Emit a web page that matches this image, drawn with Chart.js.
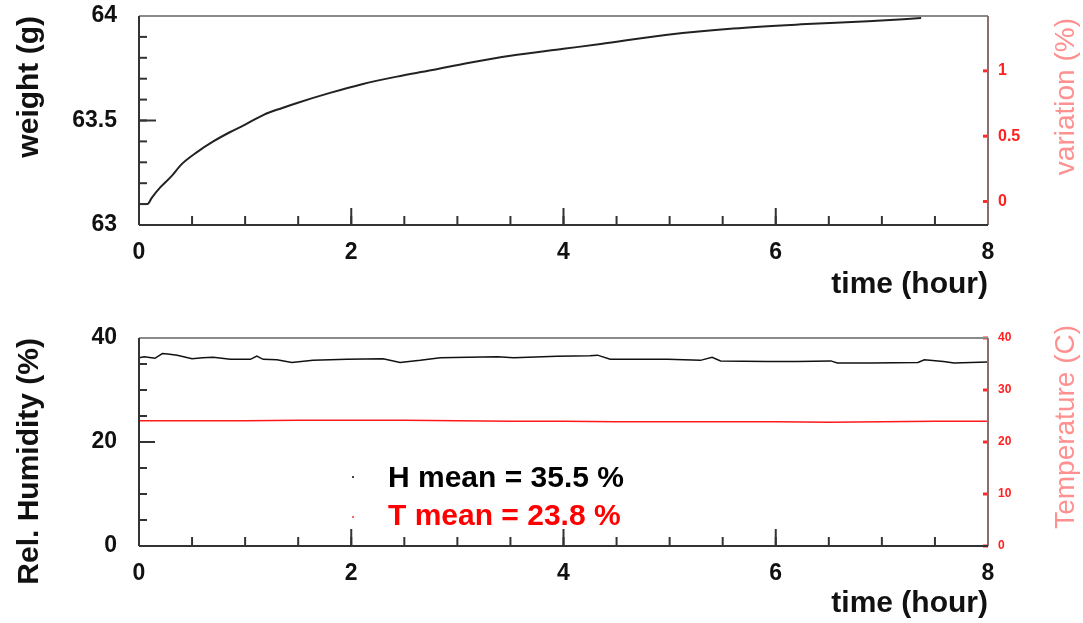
<!DOCTYPE html>
<html>
<head>
<meta charset="utf-8">
<title>Weight, humidity and temperature vs time</title>
<script src="https://cdn.jsdelivr.net/npm/chart.js@4.4.1/dist/chart.umd.min.js"></script>
<style>
    body { margin: 0; background: #fff; }
    #wrap { position: relative; width: 1083px; height: 623px; overflow: hidden; }
    #wrap canvas { position: absolute; left: 0; }
    #weightChart { top: 0; }
    #climateChart { top: 310px; }
    .mean { position: absolute; left: 388px; font: bold 30px 'Liberation Sans', Arial, sans-serif; line-height: 30px; white-space: nowrap; }
    .dot { position: absolute; left: 352px; width: 2px; height: 2px; }
</style>
</head>
<body>
<div id="wrap">
    <canvas id="weightChart" width="1083" height="310"></canvas>
    <canvas id="climateChart" width="1083" height="313"></canvas>
    <span class="dot" style="top:476px;background:#444"></span>
    <span class="dot" style="top:516px;background:#f66"></span>
    <div class="mean" style="top:462px;color:#000">H mean = 35.5 %</div>
    <div class="mean" style="top:500px;color:#ff0000">T mean = 23.8 %</div>
</div>
<script>
// ticks
const timeTicks = [0, 2, 4, 6, 8];
const weightTicks = [63, 63.5, 64];
const variationTicks = [0, 0.5, 1];
const humidityTicks = [0, 20, 40];
const temperatureTicks = [0, 10, 20, 30, 40];
const variationMin = -0.18;
const variationMax = 1.42;

// top panel: sample weight (g)
const weightTime = [0, 0.08, 0.12, 0.2, 0.3, 0.4, 0.55, 0.7, 0.86, 1.0, 1.17, 1.35, 1.49, 1.8, 2.11, 2.43, 2.75, 3.1, 3.5, 4.0, 4.35, 4.98, 5.6, 6.24, 6.87, 7.37];
const weightValue = [63.1, 63.1, 63.13, 63.18, 63.23, 63.29, 63.35, 63.40, 63.445, 63.48, 63.526, 63.56, 63.584, 63.632, 63.675, 63.71, 63.74, 63.775, 63.81, 63.843, 63.866, 63.91, 63.94, 63.96, 63.975, 63.99];

// bottom panel: relative humidity (%) and temperature (C)
const humidityTime = [0, 0.05, 0.15, 0.22, 0.27, 0.36, 0.5, 0.6, 0.7, 0.86, 1.05, 1.11, 1.17, 1.3, 1.44, 1.64, 1.96, 2.3, 2.46, 2.65, 2.84, 3.1, 3.38, 3.53, 3.94, 4.25, 4.32, 4.44, 4.63, 4.98, 5.29, 5.4, 5.48, 5.92, 6.2, 6.52, 6.58, 6.9, 7.34, 7.4, 7.58, 7.68, 8.0];
const humidityValue = [36.2, 36.4, 36.1, 37.0, 36.9, 36.7, 36.0, 36.2, 36.3, 35.9, 35.9, 36.5, 35.9, 35.8, 35.3, 35.7, 35.9, 36.0, 35.3, 35.7, 36.2, 36.3, 36.4, 36.2, 36.5, 36.6, 36.7, 35.9, 35.9, 35.9, 35.7, 36.3, 35.6, 35.5, 35.5, 35.6, 35.2, 35.2, 35.3, 35.8, 35.5, 35.2, 35.4];
const temperatureTime = [0, 0.5, 1.0, 1.5, 2.0, 2.5, 3.0, 3.5, 4.0, 4.5, 5.0, 5.5, 6.0, 6.5, 7.0, 7.5, 8.0];
const temperatureValue = [24.1, 24.1, 24.1, 24.2, 24.2, 24.2, 24.1, 24.0, 24.0, 23.9, 23.9, 23.9, 23.9, 23.8, 23.9, 24.0, 24.0];

const FONT = "'Liberation Sans', Arial, Helvetica, sans-serif";
Chart.defaults.font.family = FONT;

const toPoints = (xs, ys) => xs.map((x, i) => ({ x, y: ys[i] }));
const fixTicks = (list) => (s) => { s.ticks = list.map((v) => ({ value: v })); };
const plainNum = (v) => String(+Number(v).toFixed(2));

// frame + inward ticks (major and minor), ROOT style, plus the right-hand title
const frameTicks = {
    id: 'frameTicks',
    afterDatasetsDraw(chart, args, opts) {
        const { ctx, chartArea: a } = chart;
        ctx.save();
        opts.axes.forEach((ax) => {
            const s = chart.scales[ax.id];
            ctx.strokeStyle = ax.color;
            ctx.lineWidth = ax.width || 2;
            const mark = (v, len) => {
                const p = s.getPixelForValue(v);
                ctx.beginPath();
                if (s.isHorizontal()) { ctx.moveTo(p, a.bottom); ctx.lineTo(p, a.bottom - len); }
                else if (s.position === 'left') { ctx.moveTo(a.left, p); ctx.lineTo(a.left + len, p); }
                else { ctx.moveTo(a.right, p); ctx.lineTo(a.right - len, p); }
                ctx.stroke();
            };
            if (ax.minorStep) {
                const n = Math.round((s.max - s.min) / ax.minorStep);
                for (let i = 0; i <= n; i++) mark(s.min + i * ax.minorStep, ax.minorLen);
            }
            s.ticks.forEach((t) => mark(t.value, ax.majorLen));
        });
        const e = opts.edges;
        const line = (x1, y1, x2, y2, c) => {
            ctx.strokeStyle = c; ctx.lineWidth = 2;
            ctx.beginPath(); ctx.moveTo(x1, y1); ctx.lineTo(x2, y2); ctx.stroke();
        };
        line(a.left, a.top, a.right, a.top, e.top);
        line(a.right, a.top, a.right, a.bottom, e.right);
        line(a.left, a.top, a.left, a.bottom, e.left);
        line(a.left, a.bottom, a.right, a.bottom, e.bottom);

        const t = opts.sideTitle;
        if (t) {
            ctx.translate(a.right + t.dx, a.top + t.dy);
            ctx.rotate(-Math.PI / 2);
            ctx.font = '28px ' + FONT;
            ctx.fillStyle = t.color;
            ctx.textAlign = 'right';
            ctx.textBaseline = 'middle';
            ctx.fillText(t.text, 0, 0);
        }
        ctx.restore();
    }
};

function timeScale(height, titlePad) {
    return {
        type: 'linear', min: 0, max: 8,
        afterFit: (s) => { s.height = height; s.paddingLeft = 0; s.paddingRight = 0; },
        afterBuildTicks: fixTicks(timeTicks),
        grid: { display: false, drawTicks: false },
        border: { display: false },
        ticks: { padding: 14, color: '#111', maxRotation: 0, font: { size: 23, weight: 'bold' } },
        title: { display: true, text: 'time (hour)', align: 'end', color: '#111', font: { size: 30, weight: 'bold' }, padding: { top: 0, bottom: titlePad } }
    };
}

function leftScale(min, max, list, text) {
    return {
        position: 'left', min, max,
        afterFit: (s) => { s.width = 139; s.paddingTop = 0; s.paddingBottom = 0; },
        afterBuildTicks: fixTicks(list),
        grid: { display: false, drawTicks: false },
        border: { display: false },
        ticks: { padding: 22, color: '#111', font: { size: 23, weight: 'bold' }, callback: plainNum },
        title: { display: true, text, align: 'end', color: '#111', font: { size: 30, weight: 'bold' }, padding: { top: 12, bottom: 0 } }
    };
}

function rightScale(min, max, list, size) {
    return {
        position: 'right', min, max,
        afterFit: (s) => { s.width = 95; s.paddingTop = 0; s.paddingBottom = 0; },
        afterBuildTicks: fixTicks(list),
        grid: { display: false, drawTicks: false },
        border: { display: false },
        ticks: { padding: 10, color: '#ff2020', font: { size, weight: 'bold' }, callback: plainNum }
    };
}

const edges = { left: '#333', bottom: '#333', top: '#8a8a8a', right: '#8c6e6e' };

new Chart(document.getElementById('weightChart'), {
    type: 'line',
    data: {
        datasets: [{
            label: 'weight (g)',
            data: toPoints(weightTime, weightValue),
            yAxisID: 'y',
            borderColor: '#222',
            borderWidth: 2,
            pointRadius: 0,
            cubicInterpolationMode: 'monotone'
        }]
    },
    options: {
        responsive: false,
        animation: false,
        layout: { padding: { top: 16, left: 0, right: 0, bottom: 0 } },
        plugins: {
            legend: { display: false },
            tooltip: { enabled: false },
            frameTicks: {
                edges,
                sideTitle: { text: 'variation (%)', color: '#ff9090', dx: 78, dy: 2 },
                axes: [
                    { id: 'x', minorStep: 0.5, majorLen: 17, minorLen: 9, color: '#333' },
                    { id: 'y', minorStep: 0.1, majorLen: 17, minorLen: 8, color: '#333' },
                    { id: 'y2', majorLen: 5, color: '#ff2a2a', width: 3 }
                ]
            }
        },
        scales: {
            x: timeScale(85, 7),
            y: leftScale(63, 64, weightTicks, 'weight (g)'),
            y2: rightScale(variationMin, variationMax, variationTicks, 16)
        }
    },
    plugins: [frameTicks]
});

new Chart(document.getElementById('climateChart'), {
    type: 'line',
    data: {
        datasets: [
            {
                label: 'Rel. Humidity (%)',
                data: toPoints(humidityTime, humidityValue),
                yAxisID: 'y',
                borderColor: '#111',
                borderWidth: 1.5,
                pointRadius: 0
            },
            {
                label: 'Temperature (C)',
                data: toPoints(temperatureTime, temperatureValue),
                yAxisID: 'y2',
                borderColor: '#ff1a1a',
                borderWidth: 1.5,
                pointRadius: 0
            }
        ]
    },
    options: {
        responsive: false,
        animation: false,
        layout: { padding: { top: 28, left: 0, right: 0, bottom: 0 } },
        plugins: {
            legend: { display: false },
            tooltip: { enabled: false },
            frameTicks: {
                edges,
                sideTitle: { text: 'Temperature (C)', color: '#ff9090', dx: 78, dy: -13 },
                axes: [
                    { id: 'x', minorStep: 0.5, majorLen: 17, minorLen: 9, color: '#333' },
                    { id: 'y', minorStep: 5, majorLen: 16, minorLen: 8, color: '#333' },
                    { id: 'y2', majorLen: 5, color: '#ff2a2a', width: 3 }
                ]
            }
        },
        scales: {
            x: timeScale(77, 1),
            y: leftScale(0, 40, humidityTicks, 'Rel. Humidity (%)'),
            y2: rightScale(0, 40, temperatureTicks, 12)
        }
    },
    plugins: [frameTicks]
});
</script>
</body>
</html>
